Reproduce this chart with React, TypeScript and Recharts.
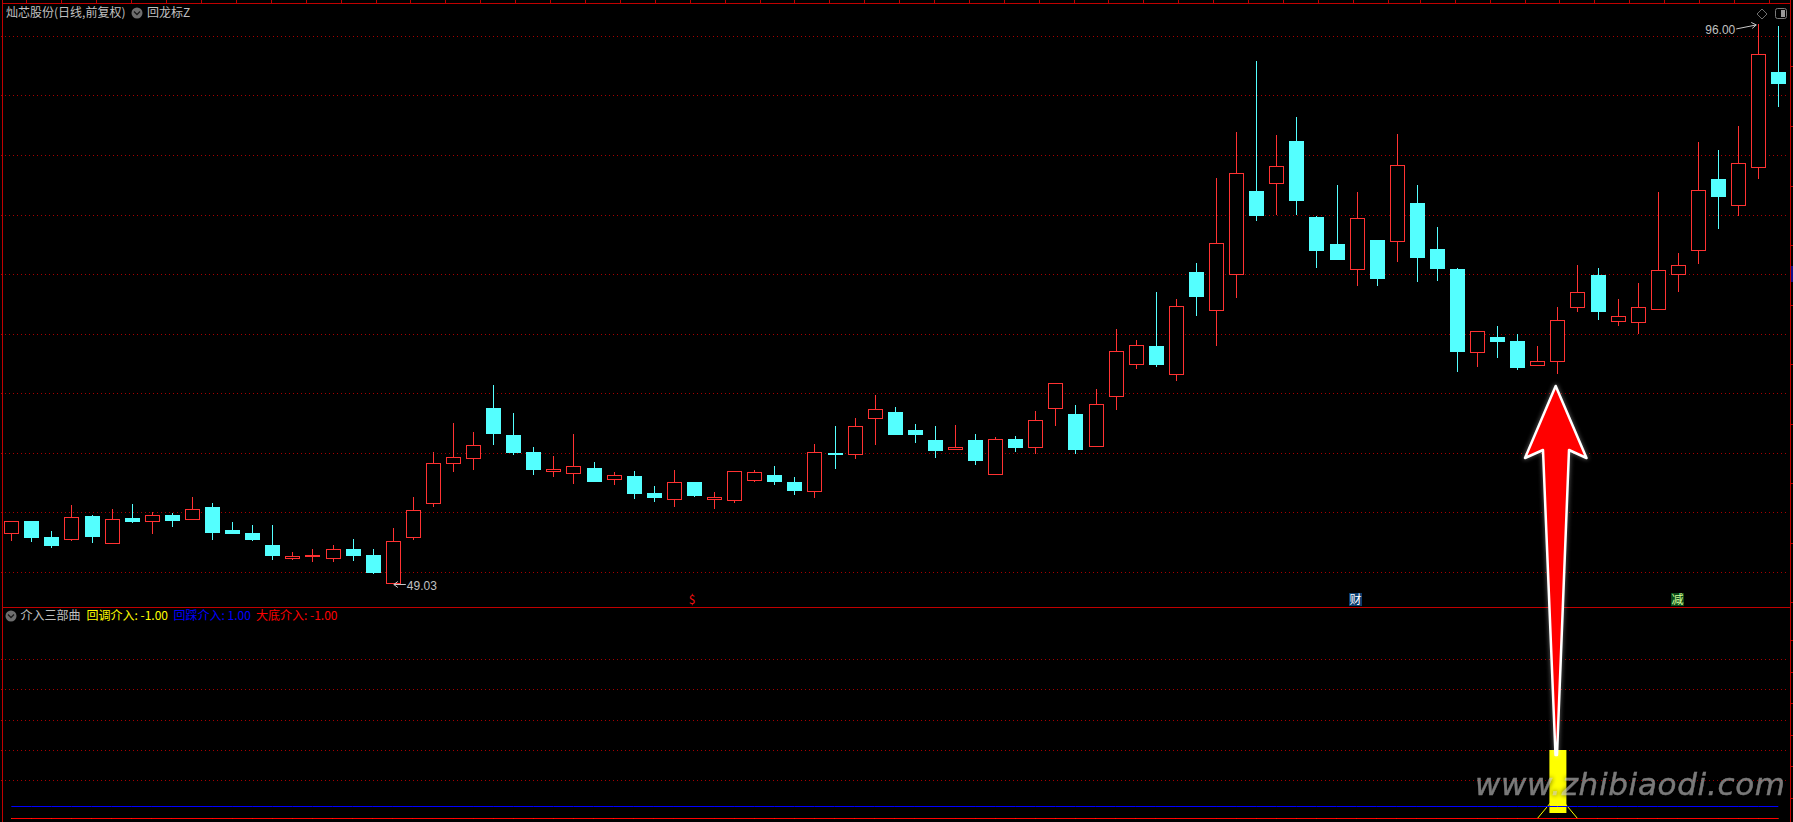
import React from "react";
import { ComposedChart, Bar, Line, XAxis, YAxis, CartesianGrid, ReferenceDot } from "recharts";

const W = 1793;
const H = 822;
const UP = "#ff3232";
const DOWN = "#54ffff";
const GRID = "#a80000";
const FRAME = "#c00000";
const CJK = "'Noto Sans CJK SC', 'Liberation Sans', sans-serif";

const opens = [
  53.24, 54.30, 52.96, 52.74, 54.72, 52.40, 54.55, 54.25, 54.81, 54.41,
  55.48, 53.55, 53.30, 52.29, 51.20, 51.39, 51.14, 51.95, 51.45, 49.03,
  52.90, 55.76, 59.12, 59.54, 63.79, 61.52, 60.10, 58.50, 58.28, 58.75,
  57.77, 58.08, 56.65, 56.09, 57.58, 56.09, 56.01, 57.69, 58.17, 57.58,
  56.77, 60.01, 59.87, 62.90, 63.38, 61.87, 61.03, 60.35, 61.03, 58.25,
  61.19, 60.47, 63.74, 63.21, 60.55, 64.75, 67.43, 68.92, 66.59, 75.21,
  71.97, 74.99, 82.01, 82.63, 86.21, 79.83, 77.56, 75.41, 77.90, 77.76,
  81.00, 77.14, 75.46, 68.44, 69.75, 69.42, 67.35, 67.68, 72.22, 74.96,
  71.04, 70.96, 72.05, 74.99, 77.00, 83.02, 80.78, 83.97, 92.00,
];
const closes = [
  54.27, 52.96, 52.29, 54.61, 53.04, 54.44, 54.30, 54.78, 54.39, 55.28,
  53.38, 53.30, 52.79, 51.45, 51.36, 51.45, 51.92, 51.45, 50.02, 52.60,
  55.20, 59.14, 59.65, 60.66, 61.69, 60.10, 58.67, 58.67, 58.89, 57.66,
  58.14, 56.65, 56.32, 57.55, 56.49, 56.29, 58.47, 58.39, 57.66, 56.91,
  60.07, 59.93, 62.25, 63.68, 61.61, 61.61, 60.27, 60.52, 59.43, 61.17,
  60.52, 62.76, 65.87, 60.35, 64.10, 68.55, 69.06, 67.49, 72.33, 73.20,
  77.62, 83.50, 80.00, 84.08, 81.26, 77.06, 76.30, 79.72, 74.71, 84.17,
  76.47, 75.55, 68.50, 70.23, 69.42, 67.23, 67.71, 71.15, 73.50, 71.94,
  71.49, 72.24, 75.35, 75.77, 82.07, 81.59, 84.33, 93.49, 91.00,
];
const highs = [
  54.27, 54.30, 53.46, 55.65, 54.81, 55.31, 55.73, 55.06, 54.97, 56.32,
  55.81, 54.22, 53.97, 53.97, 51.70, 51.95, 52.29, 52.79, 51.95, 53.72,
  56.32, 60.10, 62.53, 61.78, 65.72, 63.37, 60.52, 59.76, 61.61, 59.26,
  58.42, 58.50, 57.24, 58.58, 57.58, 56.74, 58.47, 58.58, 58.92, 58.00,
  60.77, 62.28, 62.95, 64.89, 63.88, 62.45, 62.28, 62.37, 61.61, 61.36,
  61.45, 63.54, 65.87, 64.05, 65.39, 70.43, 69.50, 73.53, 72.95, 75.97,
  83.10, 86.97, 92.93, 86.71, 88.23, 79.91, 82.52, 81.93, 77.90, 86.80,
  82.52, 78.99, 75.55, 70.23, 70.68, 70.01, 69.00, 72.27, 75.80, 75.55,
  72.94, 74.29, 81.93, 76.81, 86.12, 85.45, 87.47, 96.00, 95.88,
];
const lows = [
  52.62, 52.54, 52.04, 52.62, 52.46, 52.40, 54.13, 53.21, 53.80, 54.41,
  52.71, 53.30, 52.62, 51.03, 51.03, 50.86, 50.86, 50.95, 49.85, 49.03,
  52.71, 55.48, 58.42, 58.58, 60.68, 59.84, 58.17, 58.00, 57.41, 57.58,
  57.33, 56.15, 55.90, 55.48, 56.32, 55.31, 55.81, 57.58, 57.33, 56.49,
  56.23, 58.67, 59.51, 60.69, 61.61, 60.86, 59.60, 60.27, 59.01, 58.25,
  60.10, 59.93, 62.28, 59.93, 60.55, 63.63, 67.07, 67.24, 66.06, 71.52,
  69.00, 73.03, 79.49, 80.00, 80.00, 75.55, 76.30, 74.04, 74.04, 76.05,
  74.37, 74.46, 66.82, 67.24, 67.99, 66.98, 67.35, 66.65, 71.85, 71.18,
  70.68, 70.01, 72.05, 73.53, 75.88, 78.82, 79.91, 83.02, 89.06,
];
const priceTicks = [50, 55, 60, 65, 70, 75, 80, 85, 90, 95];

const blueLine = [
  0,0,0,0,0,0,0,0,0,0, 0,0,0,0,0,0,0,0,0,0, 0,0,0,0,0,0,0,0,0,0,
  0,0,0,0,0,0,0,0,0,0, 0,0,0,0,0,0,0,0,0,0, 0,0,0,0,0,0,0,0,0,0,
  0,0,0,0,0,0,0,0,0,0, 0,0,0,0,0,0,0,0,0,0, 0,0,0,0,0,0,0,0,0,
];
const redLine = [
  -1,-1,-1,-1,-1,-1,-1,-1,-1,-1, -1,-1,-1,-1,-1,-1,-1,-1,-1,-1, -1,-1,-1,-1,-1,-1,-1,-1,-1,-1,
  -1,-1,-1,-1,-1,-1,-1,-1,-1,-1, -1,-1,-1,-1,-1,-1,-1,-1,-1,-1, -1,-1,-1,-1,-1,-1,-1,-1,-1,-1,
  -1,-1,-1,-1,-1,-1,-1,-1,-1,-1, -1,-1,-1,-1,-1,-1,-1,-1,-1,-1, -1,-1,-1,-1,-1,-1,-1,-1,-1,
];
const yellowLine = [
  -1,-1,-1,-1,-1,-1,-1,-1,-1,-1, -1,-1,-1,-1,-1,-1,-1,-1,-1,-1, -1,-1,-1,-1,-1,-1,-1,-1,-1,-1,
  -1,-1,-1,-1,-1,-1,-1,-1,-1,-1, -1,-1,-1,-1,-1,-1,-1,-1,-1,-1, -1,-1,-1,-1,-1,-1,-1,-1,-1,-1,
  -1,-1,-1,-1,-1,-1,-1,-1,-1,-1, -1,-1,-1,-1,-1,-1,-1,1,-1,-1, -1,-1,-1,-1,-1,-1,-1,-1,-1,
];
const pillarIndex = 77;
const pillarLow = -0.54;
const pillarHigh = 4.71;
const lowerTicks = [12.29, 9.75, 7.17, 4.67, 2.125];

const topTicks = [26, 61, 96, 131, 166, 201, 236, 271, 306, 341, 376, 410, 445, 480, 515, 550, 585, 620, 655, 690, 725, 760, 794, 829, 864, 899, 934, 969, 1004, 1039, 1074, 1108, 1143, 1178, 1213, 1248, 1283, 1318, 1353, 1388, 1420, 1455, 1490, 1525, 1559, 1594, 1629, 1664, 1699, 1734, 1769];
const rightTicks = [66, 126, 186, 245, 305, 364, 424, 483, 543, 602, 640, 672, 703, 735, 766, 798];

const rows = opens.map((o, i) => ({
  idx: i,
  open: o,
  close: closes[i],
  range: [lows[i], highs[i]],
  blue: blueLine[i],
  red: redLine[i],
  yellow: yellowLine[i],
  pillar: i === pillarIndex ? [pillarLow, pillarHigh] : null,
}));

function Candle(props: any) {
  const { x, y, width, height, payload } = props;
  if (height == null) return null;
  const [lo, hi] = payload.range;
  const k = height / (hi - lo);
  const c = Math.round(x + width / 2 - 0.5) + 0.5;
  const py = (v: number) => y + (hi - v) * k;
  const up = payload.close >= payload.open;
  const tv = Math.max(payload.open, payload.close);
  const bv = Math.min(payload.open, payload.close);
  const top = Math.round(py(tv) - 0.5) + 0.5;
  const bot = Math.round(py(bv) - 0.5) + 0.5;
  const wickTop = Math.round(y);
  const wickBot = Math.round(y + height);
  const color = up ? UP : DOWN;
  return (
    <g shapeRendering="crispEdges">
      <line x1={c} x2={c} y1={wickTop} y2={wickBot} stroke={color} strokeWidth={1} />
      {up ? (
        <rect x={c - 7} y={top} width={14} height={Math.max(bot - top, 1)} fill="#000" stroke={color} strokeWidth={1} />
      ) : (
        <rect x={c - 7.5} y={top - 0.5} width={15} height={Math.max(bot - top + 1, 1)} fill={color} />
      )}
    </g>
  );
}

function LowMark(props: any) {
  const { cx, cy } = props;
  const y = Math.round(cy) + 0.5;
  return (
    <g>
      <path d={`M${cx + 1} ${y} H${cx + 13} M${cx + 5} ${y - 3} L${cx + 1} ${y} L${cx + 5} ${y + 3}`} stroke="#c8c8c8" fill="none" strokeWidth={1} />
      <text x={cx + 14} y={y + 5.5} fill="#c0c0c0" fontSize={12} fontFamily="'Liberation Sans', sans-serif">49.03</text>
    </g>
  );
}

function HighMark(props: any) {
  const { cx, cy } = props;
  return (
    <g>
      <path d={`M${cx - 22} ${cy + 4.5} L${cx - 2} ${cy + 0.5} M${cx - 7} ${cy - 2} L${cx - 2} ${cy + 0.5} L${cx - 6} ${cy + 4}`} stroke="#c8c8c8" fill="none" strokeWidth={1} />
      <text x={cx - 23} y={cy + 9.5} textAnchor="end" fill="#c0c0c0" fontSize={12} fontFamily="'Liberation Sans', sans-serif">96.00</text>
    </g>
  );
}

function Chevron({ cx, cy }: { cx: number; cy: number }) {
  return (
    <g>
      <circle cx={cx} cy={cy} r={5.5} fill="#6e6e6e" />
      <path d={`M${cx - 3} ${cy - 1.5} L${cx} ${cy + 1.5} L${cx + 3} ${cy - 1.5}`} stroke="#1a1a1a" strokeWidth={1.3} fill="none" />
    </g>
  );
}

const margin = { top: 3, right: 4.64, bottom: 0, left: 1.26 };

export default function App() {
  return (
    <div style={{ position: "fixed", left: 0, top: 0, width: W, height: H, background: "#000", overflow: "hidden" }}>
      <div style={{ position: "absolute", left: 0, top: 0 }}>
        <ComposedChart width={W} height={607} data={rows} margin={margin} barCategoryGap={0}>
          <CartesianGrid vertical={false} horizontalValues={priceTicks} stroke={GRID} strokeDasharray="1 3" strokeWidth={1} shapeRendering="crispEdges" />
          <XAxis dataKey="idx" type="category" hide />
          <YAxis hide type="number" domain={[47.09, 97.8]} allowDataOverflow width={0} />
          <Bar dataKey="range" barSize={15} shape={<Candle />} isAnimationActive={false} />
          <ReferenceDot x={19} y={49.03} r={0} ifOverflow="visible" shape={<LowMark />} />
          <ReferenceDot x={87} y={96.0} r={0} ifOverflow="visible" shape={<HighMark />} />
        </ComposedChart>
      </div>
      <div style={{ position: "absolute", left: 0, top: 607 }}>
        <ComposedChart width={W} height={215} data={rows} margin={{ ...margin, top: 0 }} barCategoryGap={0}>
          <CartesianGrid vertical={false} horizontalValues={lowerTicks} stroke={GRID} strokeDasharray="1 3" strokeWidth={1} shapeRendering="crispEdges" />
          <XAxis dataKey="idx" type="category" hide />
          <YAxis hide type="number" domain={[-1.2917, 16.625]} allowDataOverflow width={0} />
          <Line dataKey="yellow" stroke="#ffff00" strokeWidth={1} dot={false} isAnimationActive={false} />
          <Line dataKey="blue" stroke="#0000ff" strokeWidth={1} dot={false} isAnimationActive={false} />
          <Line dataKey="red" stroke="#ff0000" strokeWidth={1} dot={false} isAnimationActive={false} />
          <Bar dataKey="pillar" barSize={17} fill="#ffff00" isAnimationActive={false} />
        </ComposedChart>
      </div>
      <svg width={W} height={H} style={{ position: "absolute", left: 0, top: 0, pointerEvents: "none" }}>
        <defs>
          <filter id="glow" x="-30%" y="-10%" width="160%" height="120%">
            <feGaussianBlur stdDeviation="2" />
          </filter>
          <filter id="wm" x="-5%" y="-30%" width="110%" height="160%">
            <feGaussianBlur stdDeviation="2.5" />
          </filter>
        </defs>
        <g shapeRendering="crispEdges" stroke={FRAME} strokeWidth={1}>
          <line x1={2.5} x2={2.5} y1={0} y2={H} />
          <line x1={2} x2={1790} y1={3.5} y2={3.5} />
          <line x1={2} x2={1790} y1={607.5} y2={607.5} />
          <line x1={1790.5} x2={1790.5} y1={0} y2={H} />
          {topTicks.map((t) => (
            <line key={t} x1={t + 0.5} x2={t + 0.5} y1={0} y2={3} />
          ))}
          {rightTicks.map((t) => (
            <line key={t} x1={1790} x2={W} y1={t + 0.5} y2={t + 0.5} />
          ))}
        </g>
        <rect x={1791} y={266} width={2} height={16} fill="#10108a" />

        <text x={6} y={17} fill="#c0c0c0" fontSize={12} fontFamily={CJK}>灿芯股份(日线,前复权)</text>
        <Chevron cx={137} cy={13} />
        <text x={147} y={17} fill="#c0c0c0" fontSize={12} fontFamily={CJK}>回龙标Z</text>

        <path d="M1762 9 L1767 14 L1762 19 L1757 14 Z" fill="none" stroke="#6e6e6e" strokeWidth={1} />
        <rect x={1775.5} y={8.5} width={11} height={10} rx={2} fill="none" stroke="#7a7a7a" strokeWidth={1} />
        <rect x={1781} y={10} width={4} height={7} fill="#9a9a9a" />

        <Chevron cx={11} cy={616} />
        <text x={20.5} y={620} fill="#c0c0c0" fontSize={12} fontFamily={CJK}>介入三部曲</text>
        <text x={86.5} y={620} fill="#ffff00" fontSize={12} fontFamily={CJK}>回调介入: -1.00</text>
        <text x={173.5} y={620} fill="#0000ff" fontSize={12} fontFamily={CJK}>回踩介入: 1.00</text>
        <text x={256} y={620} fill="#ff0000" fontSize={12} fontFamily={CJK}>大底介入: -1.00</text>

        <text x={692} y={604} textAnchor="middle" fill="#f01010" fontSize={12} fontFamily={CJK}>$</text>
        <rect x={1349} y={593} width={13} height={13} fill="#0b3d6e" />
        <text x={1355.5} y={604} textAnchor="middle" fill="#ffffff" fontSize={12} fontFamily={CJK}>财</text>
        <rect x={1671} y={593} width={13} height={13} fill="#0b4a1a" />
        <text x={1677.5} y={604} textAnchor="middle" fill="#d8ff9a" fontSize={12} fontFamily={CJK}>减</text>

        <path
          d="M1555.7 386 L1586.5 458 L1569 450 L1557 755 L1555.5 755 L1543 450 L1525 458 Z"
          fill="#ffffff" stroke="#ffffff" strokeWidth={4} strokeLinejoin="round" opacity={0.3} filter="url(#glow)"
        />
        <path
          d="M1555.7 386 L1586.5 458 L1569 450 L1557 755 L1555.5 755 L1543 450 L1525 458 Z"
          fill="#ff0000" stroke="#ffffff" strokeWidth={2.5} strokeLinejoin="round"
        />

        <text x={1475} y={795} textLength={310} lengthAdjust="spacing" fill="#000" opacity={0.8} fontSize={31} fontStyle="italic" fontFamily="'DejaVu Sans', sans-serif" filter="url(#wm)">www.zhibiaodi.com</text>
        <text x={1475} y={795} textLength={310} lengthAdjust="spacing" fill="#dddddd" stroke="#dddddd" strokeWidth={0.4} opacity={0.55} fontSize={31} fontStyle="italic" fontFamily="'DejaVu Sans', sans-serif">www.zhibiaodi.com</text>
      </svg>
    </div>
  );
}
